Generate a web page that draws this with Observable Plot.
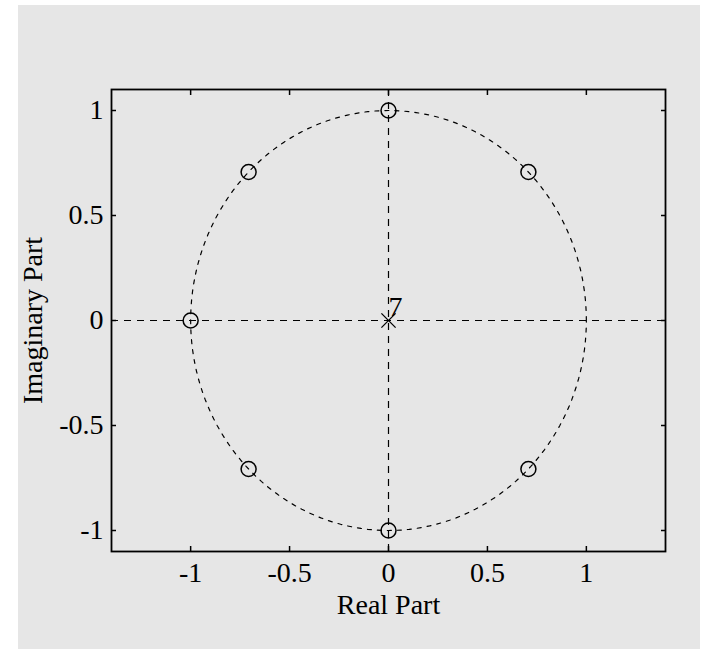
<!DOCTYPE html>
<html><head><meta charset="utf-8">
<script src="https://cdn.jsdelivr.net/npm/d3@7"></script>
<script src="https://cdn.jsdelivr.net/npm/@observablehq/plot@0.6"></script>
<style>
body{margin:0;background:#fff;}
#bg{position:absolute;left:18px;top:5px;width:682px;height:644px;background:#e6e6e6;}
#chart{position:absolute;left:0;top:0;}
</style></head><body><div id="bg"></div><div id="chart"></div>
<script>
// zeros (o markers)
const zerosRe = [0.7071, 0, -0.7071, -1, -0.7071, 0, 0.7071];
const zerosIm = [0.7071, 1, 0.7071, 0, -0.7071, -1, -0.7071];
// pole (x marker) with multiplicity label
const polesRe = [0];
const polesIm = [0];
const polesMult = ["7"];
// tick values and labels
const xTicks = [-1, -0.5, 0, 0.5, 1];
const xTickLabels = ["-1", "-0.5", "0", "0.5", "1"];
const yTicks = [-1, -0.5, 0, 0.5, 1];
const yTickLabels = ["-1", "-0.5", "0", "0.5", "1"];
const xLabel = "Real Part";
const yLabel = "Imaginary Part";
// unit circle reference (angles in degrees)
const circleDeg = d3.range(0, 361, 2);

const zeros = zerosRe.map((re, i) => ({re, im: zerosIm[i]}));
const poles = polesRe.map((re, i) => ({re, im: polesIm[i], m: polesMult[i]}));
const circle = circleDeg.map(d => ({re: Math.cos(d * Math.PI / 180), im: Math.sin(d * Math.PI / 180)}));
const xfmt = d => xTickLabels[xTicks.indexOf(d)];
const yfmt = d => yTickLabels[yTicks.indexOf(d)];

const font = "'Liberation Serif', 'Times New Roman', serif";
const chart = Plot.plot({
  width: 704, height: 653,
  marginLeft: 111, marginRight: 39, marginTop: 89, marginBottom: 102,
  style: {background: "transparent", fontFamily: font, fontSize: "28px", color: "#000", overflow: "visible"},
  x: {domain: [-1.4, 1.4]},
  y: {domain: [-1.1, 1.1]},
  marks: [
    Plot.ruleY([0], {stroke: "#000", strokeWidth: 1.2, strokeDasharray: "7,6"}),
    Plot.ruleX([0], {stroke: "#000", strokeWidth: 1.2, strokeDasharray: "7,6"}),
    Plot.line(circle, {x: "re", y: "im", stroke: "#000", strokeWidth: 1.2, strokeDasharray: "4,6"}),
    Plot.dot(zeros, {x: "re", y: "im", r: 7.5, stroke: "#000", strokeWidth: 1.5, fill: "none"}),
    Plot.dot(poles, {x: "re", y: "im", symbol: "times", r: 6.5, stroke: "#000", strokeWidth: 1.3}),
    Plot.text(poles, {x: "re", y: "im", text: "m", textAnchor: "start", dx: 0, dy: -13, fontSize: 28, fill: "#000"}),
    Plot.frame({stroke: "#000", strokeWidth: 1.8}),
    Plot.axisX(xTicks, {anchor: "bottom", tickSize: 0, tickPadding: 11, tickFormat: xfmt, fontSize: 28, label: null}),
    Plot.axisY(yTicks, {anchor: "left", tickSize: 0, tickPadding: 8, tickFormat: yfmt, fontSize: 28, label: null}),
    Plot.axisX(xTicks, {anchor: "bottom", tickSize: -5, tickFormat: () => "", label: null, strokeWidth: 1.5}),
    Plot.axisX(xTicks, {anchor: "top", tickSize: -5, tickFormat: () => "", label: null, strokeWidth: 1.5}),
    Plot.axisY(yTicks, {anchor: "left", tickSize: -5, tickFormat: () => "", label: null, strokeWidth: 1.5}),
    Plot.axisY(yTicks, {anchor: "right", tickSize: -5, tickFormat: () => "", label: null, strokeWidth: 1.5}),
    Plot.text([xLabel], {frameAnchor: "bottom", lineAnchor: "middle", textAnchor: "middle", dy: 54, fontSize: 28, fill: "#000"}),
    Plot.text([yLabel], {frameAnchor: "left", lineAnchor: "middle", textAnchor: "middle", dx: -78, rotate: -90, fontSize: 28, fill: "#000"})
  ]
});
document.getElementById("chart").appendChild(chart);
</script>
</body></html>
